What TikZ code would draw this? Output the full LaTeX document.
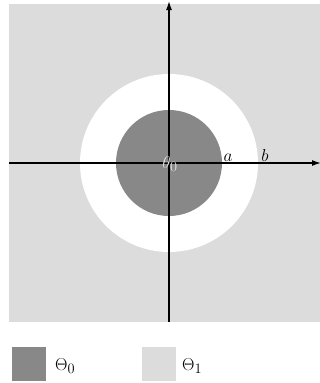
\documentclass[tikz,border=0pt]{standalone}
\usetikzlibrary{arrows.meta}
\definecolor{darkreg}{HTML}{888888}
\definecolor{lightreg}{HTML}{DCDCDC}
\definecolor{labelgray}{HTML}{E4E4E4}
\tikzset{
  axis/.style={line width=1.4pt,-{Latex[length=9pt,width=6pt]}},
  lbl/.style={inner sep=0pt,font=\fontsize{19}{23}\selectfont},
}
\begin{document}
\begin{tikzpicture}[x=1pt,y=-1pt]
\useasboundingbox (0,0) rectangle (320,383);
\fill[lightreg] (9,4) rectangle (327,322);
\coordinate (O) at (169,163);
\fill[white] (O) circle (89);
\fill[darkreg] (O) circle (53);
\coordinate (xl) at (9,163);
\coordinate (xr) at (321,163);
\coordinate (yb) at (169,322);
\coordinate (yt) at (169,1);
\draw[axis] (xl) -- (xr);
\draw[axis] (yb) -- (yt);
\node[lbl,text=labelgray] (t0) at (170,164) {$\theta_0$};
\node[lbl,anchor=base] (la) at (228,161) {$a$};
\node[lbl,anchor=base] (lb) at (265,161) {$b$};
\fill[darkreg] (12,347) rectangle (46,381);
\node[lbl,anchor=base west] (L0) at (55,370) {$\Theta_0$};
\fill[lightreg] (142,347) rectangle (176,381);
\node[lbl,anchor=base west] (L1) at (182,370) {$\Theta_1$};
\end{tikzpicture}
\end{document}
